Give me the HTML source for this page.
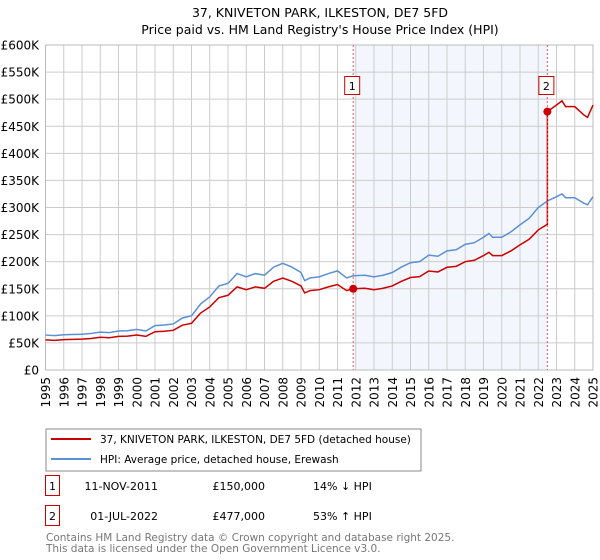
<!DOCTYPE html>
<html><head><meta charset="utf-8"><style>
body{margin:0;background:#fff;font-family:"DejaVu Sans","Liberation Sans",sans-serif}
svg{display:block}
</style></head><body>
<svg width="600" height="560" viewBox="0 0 600 560" font-family="DejaVu Sans, Liberation Sans, sans-serif">
<text x="320" y="17" text-anchor="middle" font-size="12.5">37, KNIVETON PARK, ILKESTON, DE7 5FD</text>
<text x="320" y="34" text-anchor="middle" font-size="12.5">Price paid vs. HM Land Registry's House Price Index (HPI)</text>
<g id="plot"></g>
<rect x="46" y="429" width="375" height="42" fill="#fff" stroke="#888"/>
<line x1="51" y1="439" x2="91" y2="439" stroke="#cc0000" stroke-width="2"/>
<text x="100" y="443" font-size="10.5">37, KNIVETON PARK, ILKESTON, DE7 5FD (detached house)</text>
<line x1="51" y1="459" x2="91" y2="459" stroke="#5b8fd6" stroke-width="2"/>
<text x="100" y="463" font-size="10.5">HPI: Average price, detached house, Erewash</text>
<g font-size="11">
<rect x="45.5" y="475.5" width="14" height="20" fill="#fff" stroke="#cc0000"/>
<text x="52.5" y="490" text-anchor="middle">1</text>
<text x="158" y="490" text-anchor="end">11-NOV-2011</text>
<text x="265" y="490" text-anchor="end">£150,000</text>
<text x="313" y="490">14% ↓ HPI</text>
<rect x="45.5" y="505.5" width="14" height="20" fill="#fff" stroke="#cc0000"/>
<text x="52.5" y="520" text-anchor="middle">2</text>
<text x="158" y="520" text-anchor="end">01-JUL-2022</text>
<text x="265" y="520" text-anchor="end">£477,000</text>
<text x="313" y="520">53% ↑ HPI</text>
</g>
<text x="46" y="541" font-size="10.5" fill="#777">Contains HM Land Registry data © Crown copyright and database right 2025.</text>
<text x="46" y="552" font-size="10.5" fill="#777">This data is licensed under the Open Government Licence v3.0.</text>
</svg>
<script>
const yearTicks=[1995,1996,1997,1998,1999,2000,2001,2002,2003,2004,2005,2006,2007,2008,2009,2010,2011,2012,2013,2014,2015,2016,2017,2018,2019,2020,2021,2022,2023,2024,2025];
const valueTicks=[0,50000,100000,150000,200000,250000,300000,350000,400000,450000,500000,550000,600000];
const valueLabels=["£0","£50K","£100K","£150K","£200K","£250K","£300K","£350K","£400K","£450K","£500K","£550K","£600K"];
const hpiDates=[1995,1995.5,1996,1996.5,1997,1997.5,1998,1998.5,1999,1999.5,2000,2000.5,2001,2001.5,2002,2002.5,2003,2003.5,2004,2004.5,2005,2005.5,2006,2006.5,2007,2007.5,2008,2008.5,2009,2009.2,2009.5,2010,2010.5,2011,2011.5,2011.86,2012.5,2013,2013.5,2014,2014.5,2015,2015.5,2016,2016.5,2017,2017.5,2018,2018.5,2019,2019.3,2019.5,2020,2020.5,2021,2021.5,2022,2022.5,2023,2023.3,2023.5,2024,2024.5,2024.7,2025];
const hpiValues=[64500,63500,65000,65500,66000,67500,70000,69000,72000,72500,75000,72000,82000,83000,85000,96000,100000,122000,135000,155000,160000,178000,172000,178000,175000,190000,197000,190000,180000,165000,170000,172000,178000,183000,170000,174000,175000,172000,175000,180000,190000,198000,200000,212000,210000,220000,222000,232000,235000,245000,252000,245000,245000,255000,268000,280000,300000,312000,320000,325000,318000,318000,308000,305000,320000];
const saleDates=[2011.86,2022.5];
const salePrices=[150000,477000];
const saleLabels=["1","2"];

const NS="http://www.w3.org/2000/svg";
const L=45.5,R=593,T=45,B=370;
const xS=d=>L+(d-1995)/30*(R-L);
const yS=v=>B-v/600000*(B-T);
const g=document.getElementById('plot');
function mk(tag,attrs,parent){const e=document.createElementNS(NS,tag);for(const k in attrs)e.setAttribute(k,attrs[k]);(parent||g).appendChild(e);return e;}

const shade=mk('rect',{x:xS(saleDates[0]),y:T,width:xS(saleDates[1])-xS(saleDates[0]),height:B-T,fill:'#eef3fc',opacity:0.7});


valueTicks.forEach((v,i)=>{
  const ln=mk('line',{x1:L,x2:R,y1:yS(v),y2:yS(v),stroke:'#ccc','stroke-width':1});
  
  
  const t=mk('text',{x:39,y:yS(v)+4.5,'text-anchor':'end','font-size':12});
  t.textContent=valueLabels[i];
  
  
});
yearTicks.forEach(y=>{
  const x=xS(y);
  const ln=mk('line',{x1:x,x2:x,y1:T,y2:B,stroke:'#ccc','stroke-width':1});
  
  
  const t=mk('text',{x:0,y:0,'text-anchor':'end','font-size':12,transform:`translate(${x+4.5},${B+7}) rotate(-90)`});
  t.textContent=y;
  
  
});
const frame=mk('rect',{x:L,y:T,width:R-L,height:B-T,fill:'none',stroke:'#bbb'});



function hpiAt(d){for(let i=1;i<hpiDates.length;i++){if(d<=hpiDates[i]){const f=(d-hpiDates[i-1])/(hpiDates[i]-hpiDates[i-1]);return hpiValues[i-1]+f*(hpiValues[i]-hpiValues[i-1]);}}return hpiValues[hpiValues.length-1];}
// property line: indexed from sale prices via HPI
const r1=salePrices[0]/hpiAt(saleDates[0]), r2=salePrices[1]/hpiAt(saleDates[1]);
let redPts=[];
hpiDates.forEach((d,i)=>{ if(d<saleDates[1]) redPts.push([xS(d),yS(hpiValues[i]*r1)]); });
redPts.push([xS(saleDates[1]),yS(hpiAt(saleDates[1])*r1)]);
redPts.push([xS(saleDates[1]),yS(salePrices[1])]);
hpiDates.forEach((d,i)=>{ if(d>saleDates[1]) redPts.push([xS(d),yS(hpiValues[i]*r2)]); });

const blue=mk('polyline',{points:hpiDates.map((d,i)=>xS(d)+','+yS(hpiValues[i])).join(' '),fill:'none',stroke:'#5b8fd6','stroke-width':1.5});


const red=mk('polyline',{points:redPts.map(p=>p.join(',')).join(' '),fill:'none',stroke:'#cc0000','stroke-width':1.5});



saleDates.forEach((d,i)=>{
  const x=xS(d);
  const vl=mk('line',{x1:x,x2:x,y1:T,y2:B,stroke:'#e06060','stroke-dasharray':'2,2','stroke-width':1});
  
  
  const c=mk('circle',{cx:x,cy:yS(salePrices[i]),r:4,fill:'#cc0000'});
  
  
  const b=mk('rect',{x:x-8.5,y:76.5,width:15,height:18,fill:'#fff',stroke:'#cc0000'});
  
  
  const t=mk('text',{x:x-1,y:90,'text-anchor':'middle','font-size':11});
  t.textContent=saleLabels[i];
  
  
});
</script>
</body></html>
